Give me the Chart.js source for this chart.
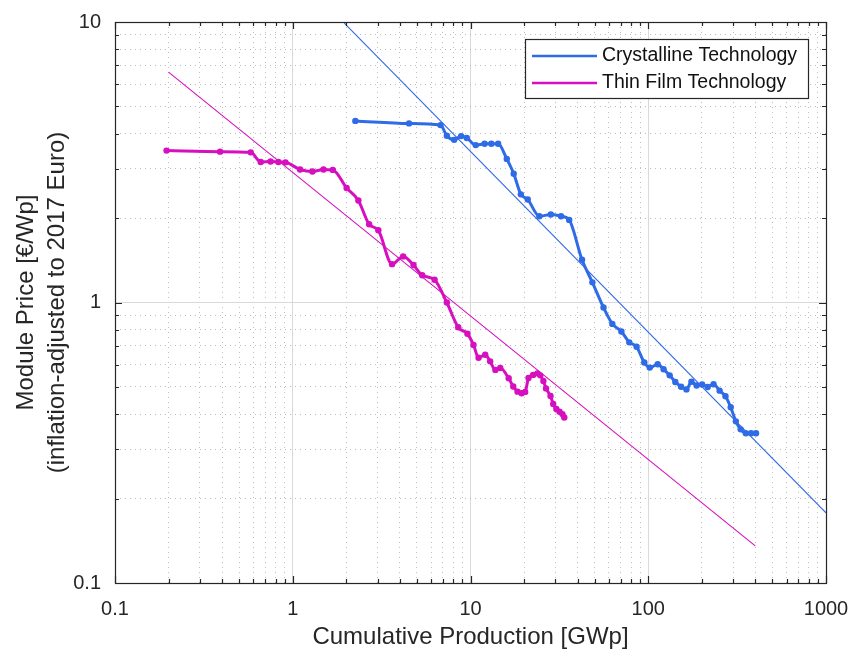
<!DOCTYPE html>
<html>
<head>
<meta charset="utf-8">
<script src="https://cdn.jsdelivr.net/npm/chart.js@4.4.0/dist/chart.umd.min.js"></script>
<style>
  body { margin: 0; background: #ffffff; }
  canvas { display: block; }
</style>
</head>
<body>
<canvas id="learningCurve" width="851" height="650"></canvas>
<script>
// Module price vs cumulative production (log-log)

// Crystalline modules
const crystallineX = [2.25, 4.51, 6.78, 7.36, 8.09, 8.86, 9.53, 10.7, 12.0, 13.1, 14.3, 16.0, 17.5, 19.2, 21.0,
  24.4, 28.3, 32.3, 35.9, 42.4, 48.5, 56.0, 62.8, 70.6, 78.2, 86.0, 95.0, 102, 113, 122, 132, 142, 153, 164,
  175, 187, 201, 216, 233, 252, 272, 291, 311, 331, 354, 379, 404];
const crystallineY = [4.44, 4.35, 4.29, 3.93, 3.80, 3.92, 3.86, 3.64, 3.68, 3.68, 3.68, 3.25, 2.88, 2.43, 2.33,
  2.03, 2.06, 2.03, 1.97, 1.42, 1.18, 0.96, 0.839, 0.788, 0.721, 0.695, 0.611, 0.586, 0.602, 0.578, 0.55, 0.521,
  0.501, 0.49, 0.522, 0.506, 0.51, 0.50, 0.511, 0.485, 0.463, 0.423, 0.377, 0.353, 0.342, 0.342, 0.342];

// Thin film modules
const thinFilmX = [0.195, 0.39, 0.58, 0.66, 0.75, 0.83, 0.91, 1.10, 1.29, 1.49, 1.68, 2.01, 2.34, 2.69, 3.03,
  3.62, 4.18, 4.78, 5.35, 6.28, 7.36, 8.53, 9.61, 10.4, 11.1, 12.1, 12.9, 13.8, 14.7, 16.4, 17.4, 18.4, 19.4,
  20.3, 21.2, 22.5, 23.8, 24.7, 25.7, 26.6, 28.2, 29.2, 30.4, 31.7, 32.9, 33.7];
const thinFilmY = [3.48, 3.45, 3.43, 3.17, 3.18, 3.17, 3.16, 2.98, 2.93, 2.98, 2.97, 2.56, 2.31, 1.90, 1.81,
  1.37, 1.46, 1.36, 1.25, 1.205, 1.00, 0.816, 0.774, 0.706, 0.635, 0.651, 0.617, 0.575, 0.584, 0.537, 0.502,
  0.481, 0.475, 0.48, 0.538, 0.552, 0.559, 0.55, 0.525, 0.494, 0.464, 0.435, 0.417, 0.408, 0.40, 0.389];

// Fitted learning curves (end points)
const crystallineFitX = [1.95, 1000];
const crystallineFitY = [9.9, 0.178];
const thinFilmFitX = [0.2, 400];
const thinFilmFitY = [6.63, 0.1356];

// Axis ticks
const xDecades = [0.1, 1, 10, 100, 1000];
const yDecades = [0.1, 1, 10];
const minorSteps = [2, 3, 4, 5, 6, 7, 8, 9];

const seriesNames = ['Crystalline Technology', 'Thin Film Technology'];
const blue = '#2f6be6';
const magenta = '#d60fbf';
const frameColor = '#262626';

function toPoints(xs, ys) {
  return xs.map(function (x, i) { return { x: x, y: ys[i] }; });
}

// major ticks at every decade, minor ticks at 2..9 in between
function logTicks(decades) {
  var ticks = [];
  for (var i = 0; i < decades.length; i++) {
    ticks.push({ value: decades[i], major: true });
    if (i < decades.length - 1) {
      for (var j = 0; j < minorSteps.length; j++) {
        ticks.push({ value: +(minorSteps[j] * decades[i]).toPrecision(6), major: false });
      }
    }
  }
  return ticks;
}

// box around the plot with inward tick marks on all four sides
const framePlugin = {
  id: 'frame',
  afterDraw: function (chart) {
    var ctx = chart.ctx, a = chart.chartArea;
    var xs = chart.scales.x, ys = chart.scales.y;
    ctx.save();
    ctx.strokeStyle = frameColor;
    ctx.lineWidth = 1.2;
    ctx.beginPath();
    xs.ticks.forEach(function (t) {
      var px = Math.round(xs.getPixelForValue(t.value)) + 0.5;
      var len = t.major ? 7 : 4;
      ctx.moveTo(px, a.bottom); ctx.lineTo(px, a.bottom - len);
      ctx.moveTo(px, a.top); ctx.lineTo(px, a.top + len);
    });
    ys.ticks.forEach(function (t) {
      var py = Math.round(ys.getPixelForValue(t.value)) + 0.5;
      var len = t.major ? 7 : 4;
      ctx.moveTo(a.left, py); ctx.lineTo(a.left + len, py);
      ctx.moveTo(a.right, py); ctx.lineTo(a.right - len, py);
    });
    ctx.stroke();
    ctx.strokeRect(Math.round(a.left) + 0.5, Math.round(a.top) + 0.5,
      Math.round(a.right - a.left), Math.round(a.bottom - a.top));

    // legend box in the upper right corner
    var bx = 525, by = 39, bw = 283, bh = 59;
    ctx.fillStyle = '#ffffff';
    ctx.fillRect(bx, by, bw, bh);
    ctx.lineWidth = 1.2;
    ctx.strokeStyle = frameColor;
    ctx.strokeRect(bx + 0.5, by + 0.5, bw, bh);
    ctx.font = '19.5px "Liberation Sans", Arial, sans-serif';
    ctx.textBaseline = 'middle';
    [blue, magenta].forEach(function (c, i) {
      var ly = by + 17 + i * 27;
      ctx.strokeStyle = c;
      ctx.lineWidth = 2.5;
      ctx.beginPath();
      ctx.moveTo(bx + 7, ly); ctx.lineTo(bx + 72, ly);
      ctx.stroke();
      ctx.fillStyle = '#111111';
      ctx.fillText(seriesNames[i], bx + 77, ly);
    });
    ctx.restore();
  }
};

function gridColor(c) { return c.tick && c.tick.major ? '#d9d9d9' : '#bdbdbd'; }
function gridDash(c) { return c.tick && c.tick.major ? [] : [1, 4]; }

const tickFont = { family: '"Liberation Sans", Arial, sans-serif', size: 20 };
const titleFont = { family: '"Liberation Sans", Arial, sans-serif', size: 24, lineHeight: 1.3 };

new Chart(document.getElementById('learningCurve'), {
  type: 'line',
  data: {
    datasets: [
      {
        label: 'Crystalline fit',
        data: toPoints(crystallineFitX, crystallineFitY),
        borderColor: blue, borderWidth: 1.1, pointRadius: 0, tension: 0, order: 3
      },
      {
        label: 'Thin film fit',
        data: toPoints(thinFilmFitX, thinFilmFitY),
        borderColor: magenta, borderWidth: 1.1, pointRadius: 0, tension: 0, order: 4
      },
      {
        label: seriesNames[0],
        data: toPoints(crystallineX, crystallineY),
        borderColor: blue, backgroundColor: blue, borderWidth: 3,
        pointRadius: 3.2, pointBorderWidth: 0, cubicInterpolationMode: 'monotone', order: 1
      },
      {
        label: seriesNames[1],
        data: toPoints(thinFilmX, thinFilmY),
        borderColor: magenta, backgroundColor: magenta, borderWidth: 3,
        pointRadius: 3.2, pointBorderWidth: 0, cubicInterpolationMode: 'monotone', order: 2
      }
    ]
  },
  options: {
    responsive: false,
    animation: false,
    clip: 0,
    layout: { padding: { left: 0, right: 25, top: 22, bottom: 0 } },
    plugins: { legend: { display: false }, tooltip: { enabled: false } },
    scales: {
      x: {
        type: 'logarithmic',
        min: 0.1, max: 1000,
        afterBuildTicks: function (s) { s.ticks = logTicks(xDecades); },
        afterFit: function (s) { s.height = 67; s.paddingLeft = 0; s.paddingRight = 0; },
        grid: { color: gridColor, lineWidth: 1, drawTicks: false },
        border: { display: false, dash: gridDash },
        ticks: {
          autoSkip: false, maxRotation: 0, padding: 14, color: '#262626', font: tickFont,
          callback: function (v, i, t) { return t[i].major ? String(v) : ''; }
        },
        title: { display: true, text: 'Cumulative Production [GWp]', color: '#262626', font: titleFont, padding: { top: 0, bottom: -3 } }
      },
      y: {
        type: 'logarithmic',
        min: 0.1, max: 10,
        afterBuildTicks: function (s) { s.ticks = logTicks(yDecades); },
        afterFit: function (s) { s.width = 115; s.paddingTop = 0; s.paddingBottom = 0; },
        grid: { color: gridColor, lineWidth: 1, drawTicks: false },
        border: { display: false, dash: gridDash },
        ticks: {
          autoSkip: false, padding: 14, color: '#262626', font: tickFont,
          callback: function (v, i, t) { return t[i].major ? String(v) : ''; }
        },
        title: {
          display: true,
          text: ['Module Price [€/Wp]', '(inflation-adjusted to 2017 Euro)'],
          color: '#262626', font: titleFont, padding: { top: 11, bottom: 0 }
        }
      }
    }
  },
  plugins: [framePlugin]
});
</script>
</body>
</html>
